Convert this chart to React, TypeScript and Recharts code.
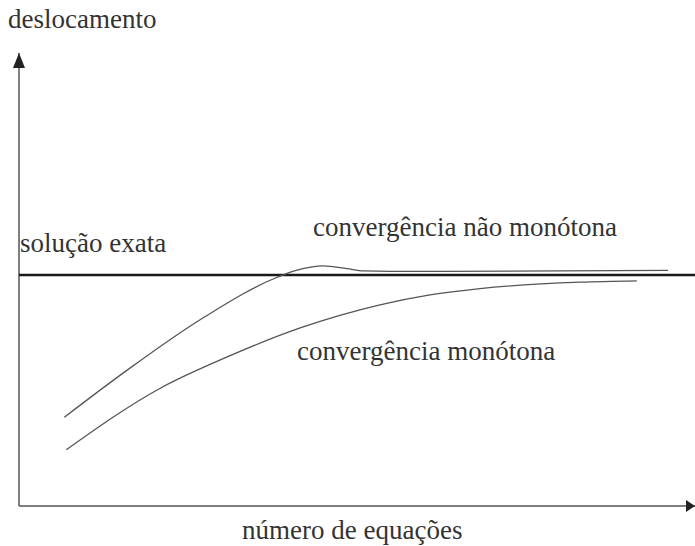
import { LineChart, Line, XAxis, YAxis, ReferenceLine, ReferenceDot } from 'recharts';

// x and y both on a 0..100 scale
const naoMonotonaX = [6.7, 16.0, 27.2, 38.2, 41.0, 45.0, 48.5, 51.0, 55.0, 96.0];
const naoMonotonaY = [19.6, 30.0, 41.5, 50.5, 52.0, 53.0, 52.4, 51.9, 51.8, 52.0];
const monotonaX = [7.0, 20.9, 30.8, 41.6, 53.4, 60.8, 68.2, 83.0, 91.4];
const monotonaY = [12.4, 26.0, 32.9, 39.3, 44.4, 46.6, 48.0, 49.4, 49.7];
const solucaoExata = 51.0;

const naoMonotona = naoMonotonaX.map((x, i) => ({ x, y: naoMonotonaY[i] }));
const monotona = monotonaX.map((x, i) => ({ x, y: monotonaY[i] }));

const font = '"Liberation Serif", "Times New Roman", serif';

const ArrowUp = (props: any) => {
  const { cx, cy } = props;
  return <polygon points={`${cx},${cy} ${cx - 6},${cy + 15} ${cx + 6},${cy + 15}`} fill="#222" />;
};

const ArrowRight = (props: any) => {
  const { cx, cy } = props;
  return <polygon points={`${cx},${cy} ${cx - 9},${cy - 6} ${cx - 9},${cy + 6}`} fill="#222" />;
};

const labelStyle = (left: number, top: number): React.CSSProperties => ({
  position: 'absolute',
  left,
  top,
  fontFamily: font,
  fontSize: 27,
  lineHeight: '27px',
  color: '#333',
  whiteSpace: 'nowrap',
});

export default function App() {
  return (
    <div style={{ position: 'absolute', left: 0, top: 0, width: 695, height: 546, background: '#fff', overflow: 'hidden' }}>
      <LineChart width={695} height={546} margin={{ top: 53, right: 0, bottom: 40, left: 19 }}>
        <XAxis type="number" dataKey="x" domain={[0, 100]} hide allowDataOverflow />
        <YAxis type="number" dataKey="y" domain={[0, 100]} hide allowDataOverflow />

        {/* axes */}
        <ReferenceLine x={0} stroke="#555" strokeWidth={1.5} />
        <ReferenceLine y={0} stroke="#555" strokeWidth={1.5} />
        <ReferenceDot x={0} y={100} r={0} shape={ArrowUp} ifOverflow="visible" />
        <ReferenceDot x={100} y={0} r={0} shape={ArrowRight} ifOverflow="visible" />

        {/* solução exata */}
        <ReferenceLine y={solucaoExata} stroke="#1a1a1a" strokeWidth={2.5} />

        <Line
          data={naoMonotona}
          dataKey="y"
          type="monotone"
          stroke="#555"
          strokeWidth={1.3}
          dot={false}
          isAnimationActive={false}
        />
        <Line
          data={monotona}
          dataKey="y"
          type="monotone"
          stroke="#555"
          strokeWidth={1.3}
          dot={false}
          isAnimationActive={false}
        />
      </LineChart>

      <div style={labelStyle(8, 6)}>deslocamento</div>
      <div style={labelStyle(20, 230)}>solução exata</div>
      <div style={labelStyle(313, 214)}>convergência não monótona</div>
      <div style={labelStyle(297, 338)}>convergência monótona</div>
      <div style={labelStyle(242, 517)}>número de equações</div>
    </div>
  );
}
